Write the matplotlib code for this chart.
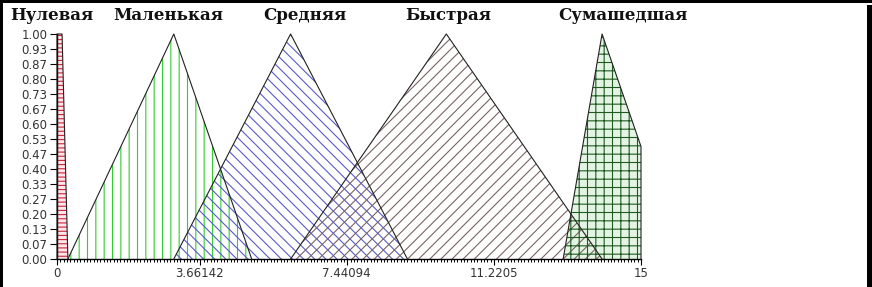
import numpy as np
import matplotlib
matplotlib.use("Agg")
import matplotlib.pyplot as plt
from matplotlib.patches import Polygon, Rectangle
from matplotlib.ticker import FixedLocator

# ---- data ----
terms = ["Нулевая", "Маленькая", "Средняя", "Быстрая", "Сумашедшая"]
zero_x = [0, 0, 0.13, 0.28]
zero_y = [0, 1, 1, 0]
small_x = [0.28, 3, 5]
small_y = [0, 1, 0]
medium_x = [3, 6, 9]
medium_y = [0, 1, 0]
fast_x = [6, 10, 14]
fast_y = [0, 1, 0]
crazy_x = [13, 14, 15, 15]
crazy_y = [0, 1, 0.5, 0]
x_ticks = [0, 3.66142, 7.44094, 11.2205, 15]
x_tick_labels = ["0", "3.66142", "7.44094", "11.2205", "15"]
y_ticks = [i / 15 for i in range(16)]
y_tick_labels = ["%.2f" % v for v in y_ticks]

# ---- styles / positions ----
label_x = [-0.12, 2.86, 6.37, 10.06, 14.54]
styles = [
    dict(face="#fbe6ea", hc="#cc2236", hatch="----"),
    dict(face="none", hc="#33cc33", hatch="||"),
    dict(face="none", hc="#5a5acc", hatch="\\\\\\"),
    dict(face="none", hc="#7a6464", hatch="///"),
    dict(face="#e4f4e4", hc="#1e5a1e", hatch="++"),
]

plt.rcParams["hatch.linewidth"] = 0.8
W, H = 872, 287
fig = plt.figure(figsize=(W / 100, H / 100), dpi=100)
ax = fig.add_axes([57 / W, 1 - 259 / H, (641 - 57) / W, (259 - 34) / H])

shapes = [(zero_x, zero_y), (small_x, small_y), (medium_x, medium_y),
          (fast_x, fast_y), (crazy_x, crazy_y)]

for (xs, ys), st in zip(shapes, styles):
    pts = np.column_stack([xs, ys])
    if st["face"] != "none":
        ax.add_patch(Polygon(pts, closed=True, facecolor=st["face"],
                             edgecolor="none", lw=0, zorder=1))
for (xs, ys), st in zip(shapes, styles):
    pts = np.column_stack([xs, ys])
    ax.add_patch(Polygon(pts, closed=True, facecolor="none",
                         edgecolor=st["hc"], hatch=st["hatch"], lw=0, zorder=2))
for (xs, ys), st in zip(shapes, styles):
    ax.plot(xs, ys, color="#222222", lw=0.8, zorder=3, clip_on=False)

ax.set_xlim(0, 15)
ax.set_ylim(0, 1)
for s in ["top", "right"]:
    ax.spines[s].set_visible(False)
for s in ["left", "bottom"]:
    ax.spines[s].set_linewidth(1.0)
    ax.spines[s].set_color("black")

ax.set_xticks(x_ticks)
ax.set_xticklabels(x_tick_labels)
ax.xaxis.set_minor_locator(FixedLocator(np.linspace(0, 15, 176)))
ax.set_yticks(y_ticks)
ax.set_yticklabels(y_tick_labels)
ax.tick_params(axis="x", which="major", length=4.5, width=0.8, pad=1.5,
               labelsize=8.5, labelcolor="#333333")
ax.tick_params(axis="x", which="minor", length=2.2, width=0.7)
ax.tick_params(axis="y", which="major", length=5, width=0.8, pad=2,
               labelsize=8.5, labelcolor="#333333")

for name, lx in zip(terms, label_x):
    ax.text(lx, 1 + 18 / 225, name,
            ha="center", va="center", fontsize=12, fontweight="bold",
            family="DejaVu Serif", color="#111111", clip_on=False)

# window-like black frame
fig.add_artist(Rectangle((0, 1 - 3 / H), 1, 3 / H, transform=fig.transFigure,
                         color="black", lw=0))
fig.add_artist(Rectangle((0, 0), 3 / W, 1, transform=fig.transFigure,
                         color="black", lw=0))
fig.add_artist(Rectangle((867 / W, 0), 5 / W, 1 - 5 / H, transform=fig.transFigure,
                         color="black", lw=0))

fig.savefig("out.png", dpi=100, facecolor="white")
